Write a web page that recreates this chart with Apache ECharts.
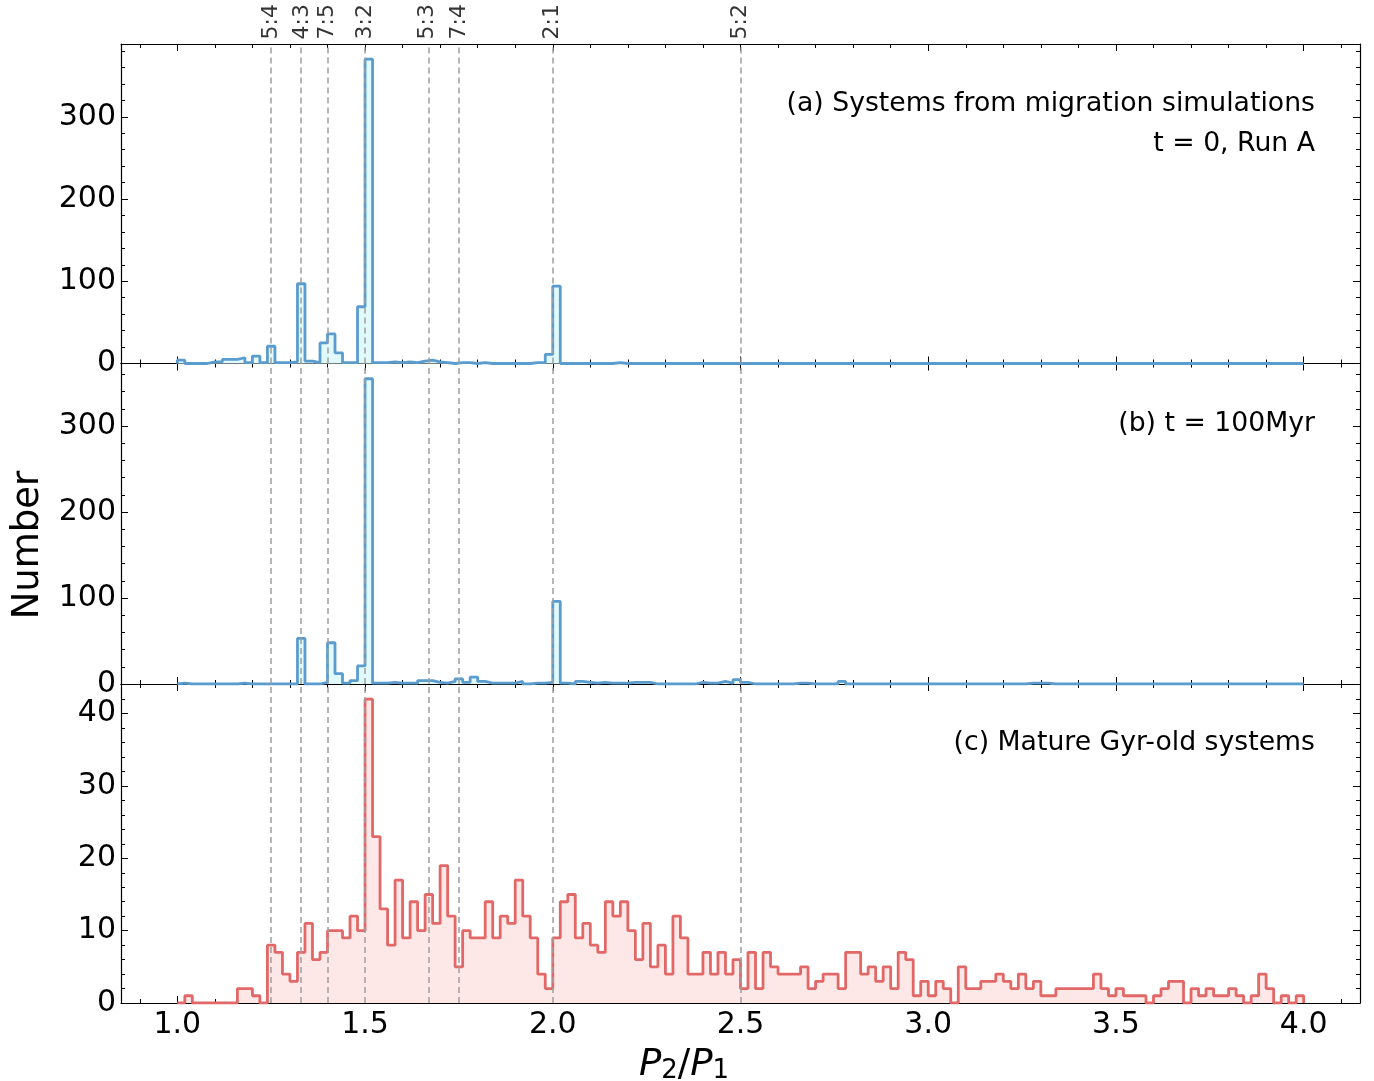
<!DOCTYPE html>
<html><head><meta charset="utf-8">
<script src="https://cdn.jsdelivr.net/npm/echarts@6/dist/echarts.min.js"></script>
<style>html,body{margin:0;padding:0;background:#fff}#c{width:1374px;height:1081px}</style>
</head><body><div id="c"></div>
<script>
// ---- data ----
const binStart = 1.0;
const binWidth = 0.02;
// (a) migration simulations, t = 0, Run A  (150 bins, 1.00 -> 4.00)
const countsA = [
  4,0,0,0,2,2,5,5,7,1,
  9,1,21,1,1,2,97,3,1,25,
  36,13,1,1,69,370,1,1,2,1,
  2,1,3,4,2,1,0,1,1,0,
  1,0,0,0,0,0,0,1,1,11,
  94,0,0,0,0,0,0,0,1,0,
  0,0,0,0,0,0,0,0,0,0,
  0,0,0,0,0,0,0,0,0,0,
  0,0,0,0,0,0,0,0,0,0,
  0,0,0,0,0,0,0,0,0,0,
  0,0,0,0,0,0,0,0,0,0,
  0,0,0,0,0,0,0,0,0,0,
  0,0,0,0,0,0,0,0,0,0,
  0,0,0,0,0,0,0,0,0,0,
  0,0,0,0,0,0,0,0,0,0
];
// (b) t = 100 Myr
const countsB = [
  1,0,0,0,0,0,0,0,1,0,
  0,0,0,0,0,0,53,0,0,2,
  48,12,1,4,21,355,1,1,2,1,
  1,1,4,4,2,1,3,6,2,8,
  3,1,1,1,1,3,0,1,1,2,
  96,1,0,3,2,1,2,1,1,1,
  2,2,2,0,0,0,0,0,0,2,
  1,1,3,1,5,2,0,0,0,0,
  0,0,1,1,0,0,0,0,3,0,
  0,0,0,0,0,0,0,0,0,0,
  0,0,0,0,0,0,0,0,0,0,
  0,0,0,1,1,1,0,0,0,0,
  0,0,0,0,0,0,0,0,0,0,
  0,0,0,0,0,0,0,0,0,0,
  0,0,0,0,0,0,0,0,0,0
];
// (c) mature Gyr-old systems
const countsC = [
  0,1,0,0,0,0,0,0,2,2,
  1,0,8,7,4,3,7,11,6,7,
  10,10,9,12,10,42,23,13,8,17,
  9,14,10,15,11,19,12,5,10,9,
  9,14,9,12,11,17,12,9,4,2,
  9,14,15,9,11,8,7,14,12,14,
  10,6,11,5,8,4,12,9,4,4,
  7,4,7,4,6,2,7,2,7,5,
  4,4,4,5,2,3,4,4,2,7,
  7,4,5,3,5,2,7,6,1,3,
  1,3,2,0,5,2,2,3,3,4,
  3,2,4,2,3,1,1,2,2,2,
  2,2,4,2,1,2,1,1,1,0,
  1,2,3,3,0,2,1,2,1,1,
  2,1,0,1,4,2,0,1,0,1
];
const resonances = [1.25, 4/3, 1.4, 1.5, 5/3, 1.75, 2.0, 2.5];
const resonanceLabels = ['5:4','4:3','7:5','3:2','5:3','7:4','2:1','5:2'];
const xMajorTicks = [1.0, 1.5, 2.0, 2.5, 3.0, 3.5, 4.0];
const yMajorAB = [0, 100, 200, 300];
const yMajorC = [0, 10, 20, 30, 40];
const panelTexts = [
  ['(a) Systems from migration simulations', 't = 0, Run A'],
  ['(b) t = 100Myr'],
  ['(c) Mature Gyr-old systems']
];

// ---- helpers ----
const FONT = 'DejaVu Sans';
const xMinorTicks = [];
for (let k = 9; k <= 41; k++) if (k % 5 !== 0) xMinorTicks.push(k / 10);
function minorList(step, max, majorStep) {
  const out = [];
  for (let v = step; v <= max; v += step) {
    const r = Math.round(v * 1000) / 1000;
    if (Math.abs(r / majorStep - Math.round(r / majorStep)) > 1e-6) out.push(r);
  }
  return out;
}
function maxOf(arr) { return Math.max.apply(null, arr) * 1.05; }
const yMax = [maxOf(countsA), maxOf(countsB), maxOf(countsC)];
const yMinors = [minorList(20, yMax[0], 100), minorList(20, yMax[1], 100), minorList(2, yMax[2], 10)];
const yMajors = [yMajorAB, yMajorAB, yMajorC];

function stepData(counts) {
  const d = [[binStart, 0]];
  counts.forEach((c, i) => d.push([+(binStart + i * binWidth).toFixed(4), c]));
  const end = +(binStart + counts.length * binWidth).toFixed(4);
  d.push([end, counts[counts.length - 1]]);
  d.push([end, 0]);
  return d;
}

const grids = [
  {left: 121, top: 44, width: 1239, height: 319.5},
  {left: 121, top: 363.5, width: 1239, height: 320.5},
  {left: 121, top: 684, width: 1239, height: 319}
];

const xAxes = [], yAxes = [];
grids.forEach((g, gi) => {
  const base = {gridIndex: gi, type: 'value', min: 0.85, max: 4.15, splitLine: {show: false}};
  const tickStyle = {color: '#000', width: 1};
  xAxes.push(Object.assign({}, base, {
    position: 'bottom',
    axisLine: {show: true, onZero: false, lineStyle: {color: '#000', width: 1.2}},
    axisTick: {show: true, inside: true, length: 7, customValues: xMajorTicks, lineStyle: tickStyle},
    axisLabel: {show: gi === 2, customValues: xMajorTicks, formatter: v => v.toFixed(1),
      fontSize: 30, fontFamily: FONT, color: '#000', margin: 7}
  }));
  xAxes.push(Object.assign({}, base, {
    position: 'bottom',
    axisLine: {show: false, onZero: false},
    axisTick: {show: true, inside: true, length: 4, customValues: xMinorTicks, lineStyle: tickStyle},
    axisLabel: {show: false}
  }));
  xAxes.push(Object.assign({}, base, {
    position: 'top',
    axisLine: {show: true, onZero: false, lineStyle: {color: '#000', width: 1.2}},
    axisTick: {show: true, inside: true, length: 7, customValues: xMajorTicks, lineStyle: tickStyle},
    axisLabel: {show: false}
  }));
  xAxes.push(Object.assign({}, base, {
    position: 'top',
    axisLine: {show: false, onZero: false},
    axisTick: {show: true, inside: true, length: 4, customValues: xMinorTicks, lineStyle: tickStyle},
    axisLabel: {show: false}
  }));

  const yb = {gridIndex: gi, type: 'value', min: 0, max: yMax[gi], splitLine: {show: false}};
  yAxes.push(Object.assign({}, yb, {
    position: 'left',
    axisLine: {show: true, onZero: false, lineStyle: {color: '#000', width: 1.2}},
    axisTick: {show: true, inside: true, length: 7, customValues: yMajors[gi], lineStyle: tickStyle},
    axisLabel: {show: true, customValues: yMajors[gi], formatter: v => String(Math.round(v)),
      fontSize: 30, fontFamily: FONT, color: '#000', margin: 5}
  }));
  yAxes.push(Object.assign({}, yb, {
    position: 'left',
    axisLine: {show: false, onZero: false},
    axisTick: {show: true, inside: true, length: 4, customValues: yMinors[gi], lineStyle: tickStyle},
    axisLabel: {show: false}
  }));
  yAxes.push(Object.assign({}, yb, {
    position: 'right',
    axisLine: {show: true, onZero: false, lineStyle: {color: '#000', width: 1.2}},
    axisTick: {show: true, inside: true, length: 7, customValues: yMajors[gi], lineStyle: tickStyle},
    axisLabel: {show: false}
  }));
  yAxes.push(Object.assign({}, yb, {
    position: 'right',
    axisLine: {show: false, onZero: false},
    axisTick: {show: true, inside: true, length: 4, customValues: yMinors[gi], lineStyle: tickStyle},
    axisLabel: {show: false}
  }));
});

const lineColors = ['#5a9ccd', '#5a9ccd', '#e26868'];
const fillColors = ['#e0f9fa', '#e0f9fa', '#fde7e7'];
const allCounts = [countsA, countsB, countsC];

const series = allCounts.map((counts, gi) => ({
  type: 'line',
  xAxisIndex: gi * 4,
  yAxisIndex: gi * 4,
  step: 'end',
  symbol: 'none',
  data: stepData(counts),
  lineStyle: {color: lineColors[gi], width: 2.8},
  areaStyle: {color: fillColors[gi], opacity: 1},
  animation: false,
  markLine: {
    silent: true,
    symbol: 'none',
    label: {show: false},
    lineStyle: {type: [6, 4], color: '#9e9e9e', width: 1.5},
    data: resonances.map(v => ({xAxis: v})),
    animation: false
  }
}));

series.push({
  type: 'scatter',
  xAxisIndex: 0,
  yAxisIndex: 0,
  symbolSize: 1,
  itemStyle: {color: 'rgba(0,0,0,0)'},
  clip: false,
  silent: true,
  animation: false,
  data: resonances.map((v, i) => [v, yMax[0], resonanceLabels[i]]),
  label: {
    show: true, position: 'top', distance: 4, rotate: 90,
    align: 'left', verticalAlign: 'middle',
    formatter: p => p.data[2],
    fontSize: 22, fontFamily: FONT, color: '#000'
  }
});

const textCenters = [[104, 144], [424], [743]];
const titles = [];
panelTexts.forEach((lines, gi) => {
  lines.forEach((t, li) => {
    titles.push({
      text: t, right: 59, top: textCenters[gi][li] - 15, padding: 0,
      textStyle: {fontSize: 26.7, fontWeight: 'normal', fontFamily: FONT, color: '#000', lineHeight: 30}
    });
  });
});

const chart = echarts.init(document.getElementById('c'), null, {renderer: 'canvas'});
chart.setOption({
  animation: false,
  backgroundColor: '#fff',
  title: titles,
  grid: grids,
  xAxis: xAxes,
  yAxis: yAxes,
  series: series,
  graphic: [
    {type: 'text', x: 28, y: 545, rotation: Math.PI / 2,
     style: {text: 'Number', fontSize: 37, fontFamily: FONT, fill: '#000', align: 'center', verticalAlign: 'middle'}},
    {type: 'text', x: 684, y: 1062,
     style: {text: '{i|P}{s|2}{n|/}{i|P}{s|1}', align: 'center', verticalAlign: 'middle', fill: '#000',
       rich: {
         i: {fontSize: 37, fontStyle: 'italic', fontFamily: FONT, lineHeight: 44, verticalAlign: 'bottom'},
         n: {fontSize: 37, fontFamily: FONT, lineHeight: 44, verticalAlign: 'bottom'},
         s: {fontSize: 26, fontFamily: FONT, lineHeight: 20, verticalAlign: 'bottom'}
       }}}
  ]
});
</script>
</body></html>
